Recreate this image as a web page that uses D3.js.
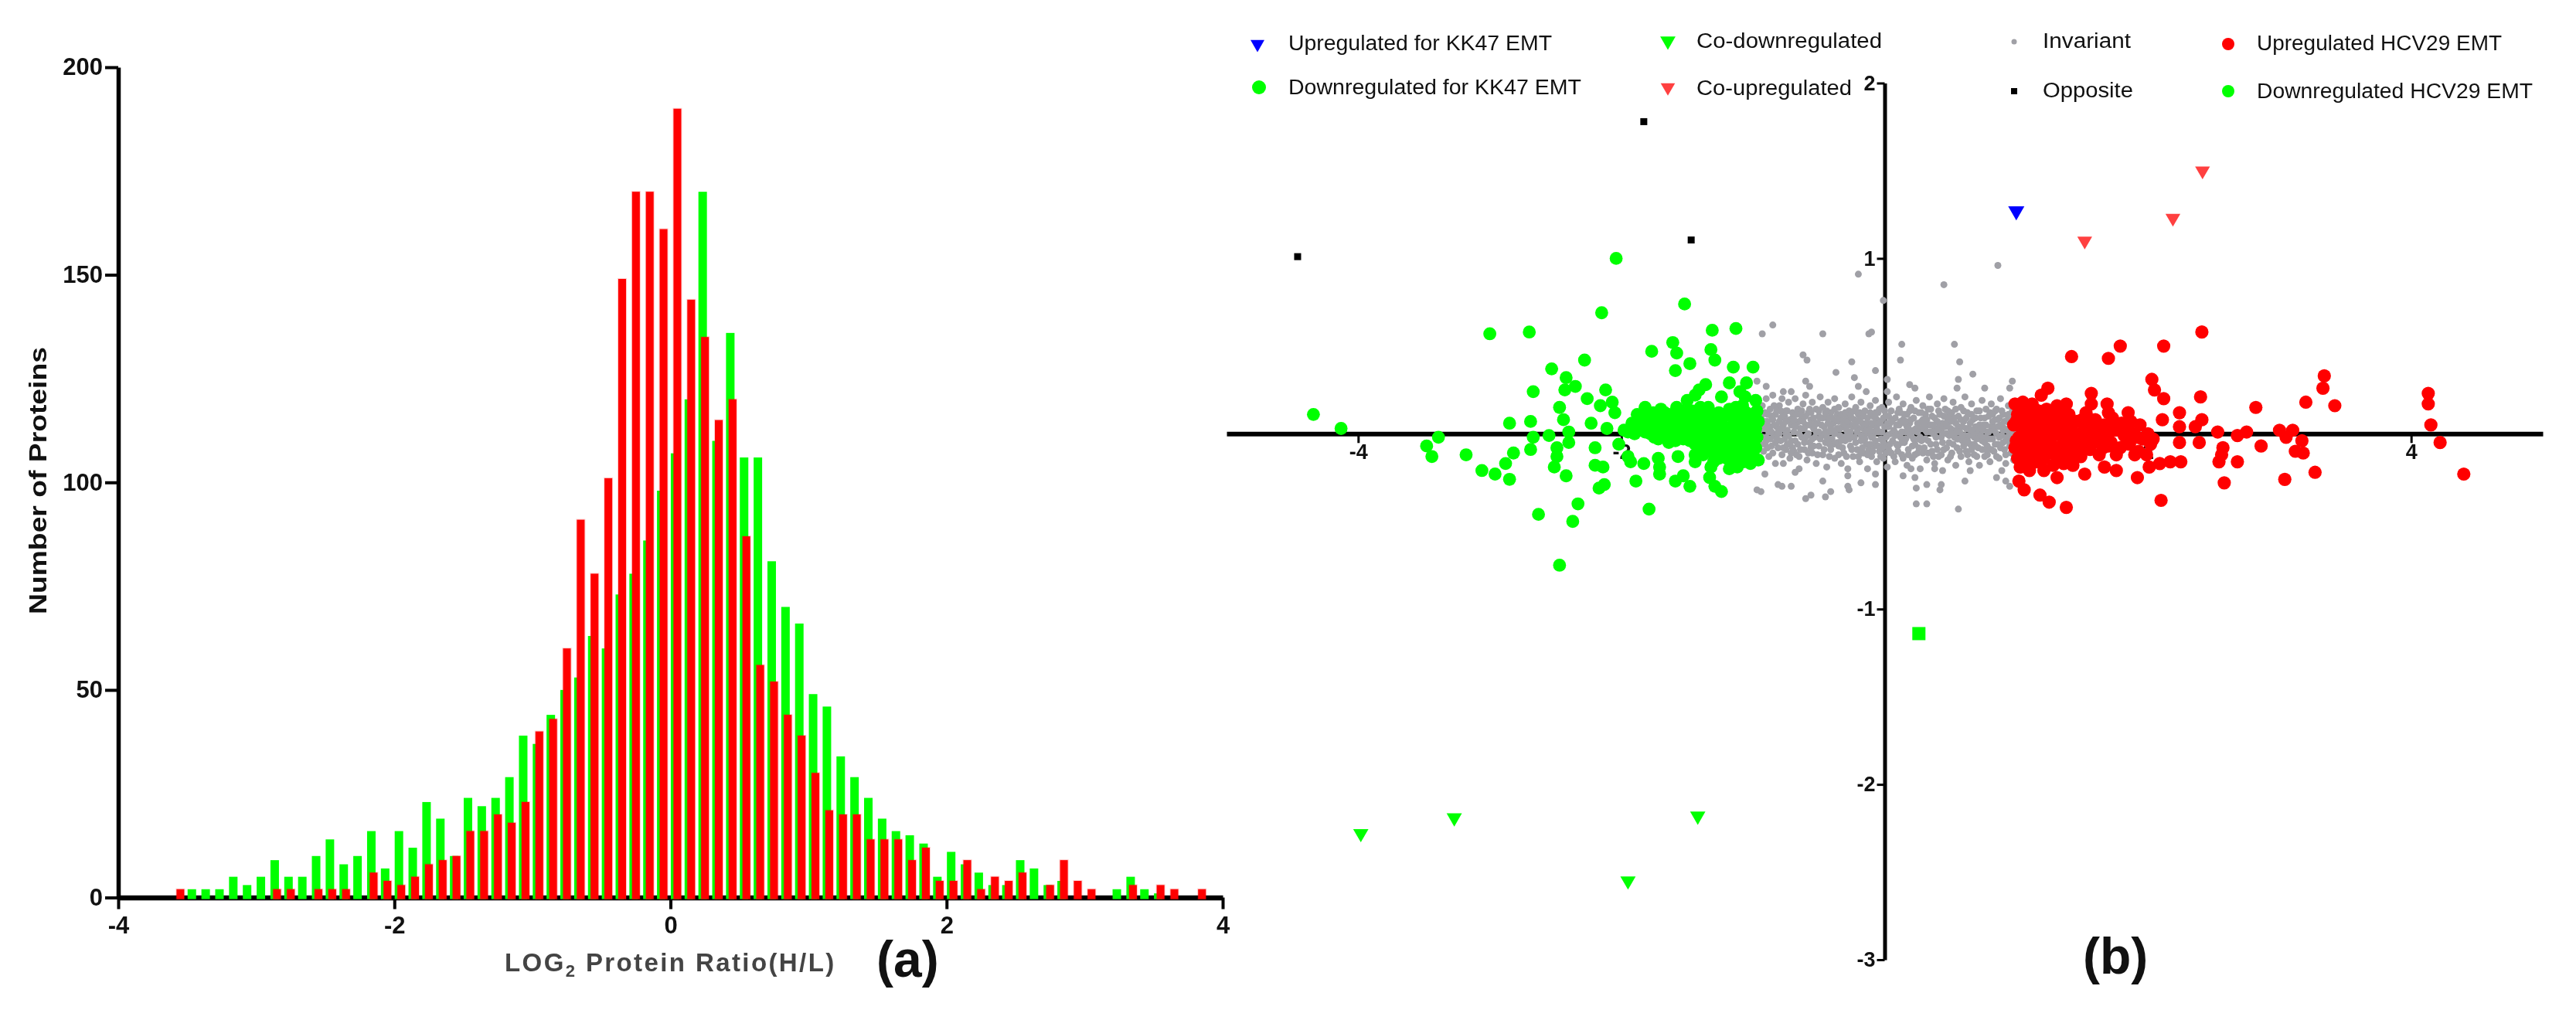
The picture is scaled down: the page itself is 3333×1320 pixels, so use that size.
<!DOCTYPE html>
<html><head><meta charset="utf-8">
<script src="https://cdn.jsdelivr.net/npm/d3@7/dist/d3.min.js"></script>
<style>
html,body{margin:0;padding:0;background:#fff}
svg{display:block;filter:blur(0.7px)}
text{font-family:"Liberation Sans",Arial,sans-serif}
</style></head><body><svg id="c" width="3333" height="1320"></svg>
<script>
const bins=[-3.55,-3.45,-3.35,-3.25,-3.15,-3.05,-2.95,-2.85,-2.75,-2.65,-2.55,-2.45,-2.35,-2.25,-2.15,-2.05,-1.95,-1.85,-1.75,-1.65,-1.55,-1.45,-1.35,-1.25,-1.15,-1.05,-0.95,-0.85,-0.75,-0.65,-0.55,-0.45,-0.35,-0.25,-0.15,-0.05,0.05,0.15,0.25,0.35,0.45,0.55,0.65,0.75,0.85,0.95,1.05,1.15,1.25,1.35,1.45,1.55,1.65,1.75,1.85,1.95,2.05,2.15,2.25,2.35,2.45,2.55,2.65,2.75,2.85,2.95,3.05,3.15,3.25,3.35,3.45,3.55,3.65,3.75,3.85];
const greenCounts=[0,2,2,2,5,3,5,9,5,5,10,14,8,10,16,7,16,12,23,19,10,24,22,24,29,39,37,44,50,53,63,60,73,78,86,98,107,120,170,110,136,106,106,81,70,66,49,46,34,29,24,19,16,15,13,5,11,8,6,3,3,9,7,3,4,0,0,0,2,5,2,1,0,0,0];
const redCounts=[2,0,0,0,0,0,0,2,2,0,2,2,2,0,6,4,3,5,8,9,10,16,16,20,18,23,40,43,60,91,78,101,149,170,170,161,190,144,135,115,120,87,56,52,44,39,30,21,20,20,14,14,14,9,12,4,4,9,2,5,4,6,0,3,9,4,2,0,0,3,0,3,2,0,2];
const histXTicks=[-4,-2,0,2,4];
const histYTicks=[0,50,100,150,200];

const opposite=[[-4.46,1.01],[-1.83,1.78],[-1.47,1.105]];
const upKK47=[[1.0,1.27]];
const coUp=[[2.19,1.23],[1.52,1.10],[2.415,1.50]];
const coDown=[[-3.98,-2.28],[-3.27,-2.19],[-1.42,-2.18],[-1.95,-2.55]];
const downHCV29=[[0.26,-1.14]];
const downKK47=[[-4.34,.11],[-4.13,.03],[-3.39,-.02],[-3.48,-.07],[-3.44,-.13],[-3.18,-.12],[-3.0,.57],[-2.70,.58],[-2.85,.06],[-2.69,.07],[-2.82,-.11],[-2.88,-.17],[-3.06,-.21],[-2.96,-.23],[-2.85,-.26],[-2.67,.24],[-2.53,.37],[-2.42,.32],[-2.43,.25],[-2.35,.27],[-2.28,.42],[-2.26,.20],[-2.15,.69],[-2.04,1.0],[-1.52,.74],[-1.77,.47],[-1.61,.52],[-1.58,.46],[-1.48,.40],[-1.59,.36],[-1.31,.59],[-1.13,.60],[-1.32,.48],[-1.29,.42],[-1.15,.38],[-1.0,.38],[-1.36,.28],[-1.41,.25],[-1.18,.29],[-1.05,.29],[-1.10,.24],[-1.24,.21],[-2.12,.25],[-2.16,.16],[-2.07,.18],[-2.05,.12],[-2.47,.15],[-2.44,.08],[-2.23,.06],[-2.11,.03],[-2.40,.01],[-2.40,-.05],[-2.55,-.01],[-2.67,-.02],[-2.69,-.09],[-2.49,-.08],[-2.49,-.13],[-2.51,-.19],[-2.42,-.24],[-2.20,-.08],[-2.20,-.18],[-2.14,-.19],[-2.02,-.06],[-1.95,-.13],[-1.93,-.16],[-1.83,-.17],[-1.72,-.14],[-1.71,-.19],[-1.71,-.23],[-1.89,-.27],[-2.13,-.29],[-2.17,-.31],[-1.59,-.27],[-1.53,-.24],[-1.48,-.30],[-2.33,-.40],[-2.63,-.46],[-2.37,-.50],[-1.79,-.43],[-2.47,-.75],[-1.32,-.19],[-1.33,-.25],[-1.29,-.30],[-1.24,-.33],[-1.57,-.13],[-1.44,-.16],[-1.44,-.12],
[-1.98,.02],[-1.92,.06],[-1.88,.11],[-1.85,.04],[-1.82,.15],[-1.80,.07],[-1.78,.0],[-1.76,.12],[-1.74,.05],[-1.72,-.03],[-1.70,.14],[-1.68,.08],[-1.66,.01],[-1.64,-.05],[-1.62,.11],[-1.60,.05],[-1.58,.15],[-1.56,-.01],[-1.54,.09],[-1.52,.02],[-1.50,.19],[-1.48,-.04],[-1.46,.13],[-1.44,.22],[-1.42,.06],[-1.40,-.06],[-1.38,.11],[-1.36,.01],[-1.34,.15],[-1.32,-.04],[-1.30,.07],[-1.28,-.10],[-1.26,.12],[-1.24,-.02],[-1.22,.04],[-1.20,-.14],[-1.18,.14],[-1.16,-.07],[-1.14,.08],[-1.12,-.19],[-1.10,.01],[-1.08,.16],[-1.06,-.11],[-1.04,.05],[-1.02,-.05],[-1.0,.11],[-.98,.19],[-.97,-.02],[-.96,.07],[-.96,-.15],[-1.10,-.13],[-1.18,-.20],[-1.22,-.12],[-1.30,-.16],[-1.38,-.12],[-1.44,-.06],[-1.02,-.17],[-1.06,.21],[-1.13,.15],[-1.25,.07],[-1.35,.08],[-1.40,.15],[-1.28,.02],[-1.18,.03],[-1.10,.10],[-1.05,-.02],[-1.33,-.02],[-1.46,.03],[-1.62,-.01],[-1.70,.03],[-1.76,.07],
[-1.43,.10],[-1.41,.01],[-1.39,.05],[-1.37,-.07],[-1.35,.12],[-1.34,-.10],[-1.31,.02],[-1.29,.11],[-1.27,-.05],[-1.26,-.14],[-1.23,.09],[-1.21,-.06],[-1.20,.01],[-1.19,.11],[-1.17,-.02],[-1.15,-.11],[-1.15,.05],[-1.13,-.16],[-1.12,-.03],[-1.11,.05],[-1.09,-.07],[-1.08,.09],[-1.07,-.16],[-1.05,.12],[-1.04,-.08],[-1.03,.01],[-1.01,.07],[-1.0,-.11],[-1.0,-.02],[-.98,.03],[-.98,-.08],[-.97,.13],[-1.42,-.01],[-1.36,-.03],[-1.30,-.09],[-1.24,.01],[-1.12,.12],[-1.16,.10],
[-1.84,.10],[-1.82,.01],[-1.79,.12],[-1.77,.04],[-1.75,-.02],[-1.73,.10],[-1.71,.07],[-1.69,-.01],[-1.67,.12],[-1.65,.05],[-1.63,.09],[-1.61,.01],[-1.59,-.04],[-1.58,.10],[-1.56,.05],[-1.55,.13],[-1.53,-.03],[-1.51,.07],[-1.49,.13],[-1.47,.08],[-1.49,.01],[-1.95,.01],[-1.90,.0],[-1.87,.07]];
const upHCV29=[[2.41,.58],[1.79,.50],[2.12,.50],[1.42,.44],[1.70,.43],[3.34,.33],[3.33,.26],[3.20,.18],[3.42,.16],[2.82,.15],[2.03,.31],[2.05,.25],[2.12,.20],[2.40,.21],[2.24,.12],[1.24,.26],[1.19,.22],[1.57,.23],[1.57,.17],[1.69,.17],[1.70,.12],[1.85,.12],[2.11,.08],[2.41,.08],[2.36,.04],[2.24,.04],[2.53,.01],[2.75,.01],[2.68,-.01],[3.0,.02],[3.10,.02],[3.05,-.02],[3.17,-.04],[3.12,-.10],[3.18,-.11],[2.86,-.07],[2.57,-.08],[2.56,-.12],[2.54,-.16],[2.68,-.16],[2.39,-.05],[2.24,-.05],[2.25,-.16],[2.17,-.16],[2.09,-.17],[2.01,-.19],[3.27,-.22],[3.04,-.26],[2.58,-.28],[2.10,-.38],[1.92,-.25],[1.76,-.21],[1.67,-.19],[1.52,-.23],[1.31,-.25],[1.21,-.21],[1.38,-.42],[1.25,-.39],[1.18,-.35],[1.06,-.32],[1.02,-.27],[1.10,-.21],[4.40,-.23],[4.13,.23],[4.13,.17],[4.15,.05],[4.22,-.05],
[.99,.17],[1.01,.11],[.98,.05],[1.02,-.02],[.99,-.08],[1.01,-.14],[1.03,-.19],[1.05,.18],[1.07,.09],[1.05,.02],[1.08,-.06],[1.06,-.12],[1.09,-.18],[1.12,.17],[1.13,.11],[1.11,.04],[1.14,-.03],[1.12,-.10],[1.15,-.16],[1.17,.13],[1.18,.06],[1.20,-.01],[1.18,-.08],[1.21,-.14],[1.24,.10],[1.25,.03],[1.23,-.05],[1.26,-.11],[1.28,-.18],[1.31,.16],[1.33,.08],[1.30,.0],[1.34,-.07],[1.32,-.14],[1.38,.17],[1.40,.11],[1.37,.03],[1.41,-.04],[1.39,-.11],[1.43,-.18],[1.46,.07],[1.48,.0],[1.45,-.07],[1.49,-.13],[1.53,.12],[1.55,.04],[1.52,-.03],[1.56,-.09],[1.60,.08],[1.62,.01],[1.59,-.05],[1.63,-.12],[1.67,.05],[1.69,-.01],[1.66,-.08],[1.73,.09],[1.75,.02],[1.72,-.05],[1.76,-.12],[1.80,.06],[1.82,-.01],[1.79,-.08],[1.87,.07],[1.89,.0],[1.86,-.06],[1.90,-.12],[1.94,.05],[1.96,-.03],[1.93,-.10],[2.0,.0],[2.02,-.06],[1.99,-.12],[2.04,-.03],
[1.0,.07],[1.0,-.04],[1.03,.14],[1.04,.05],[1.03,-.08],[1.04,-.16],[1.08,.14],[1.09,.01],[1.07,-.02],[1.10,-.09],[1.09,-.14],[1.11,.09],[1.14,.14],[1.15,.07],[1.16,.0],[1.15,-.07],[1.17,-.12],[1.20,.09],[1.21,.03],[1.22,-.09],[1.23,.14],[1.27,.06],[1.27,-.02],[1.28,-.08],[1.29,.12],[1.30,-.12],[1.34,.03],[1.35,.12],[1.36,-.03],[1.37,-.09],[1.36,-.17],[1.42,.07],[1.43,.01],[1.43,-.09],[1.47,-.04],[1.50,.08],[1.50,-.07],[1.52,.05],[1.56,.0],[1.57,.08],[1.60,.0],[1.64,.05],[1.65,-.03],[1.70,.04],[1.70,-.07],[1.78,.03],[1.84,.03],[1.84,-.05],[1.92,-.02],[1.41,-.14]];
const invariant=[[-.20,.91],[.45,.85],[.86,.96],[-.01,.76],[-.47,.57],[-.12,.57],[.13,.51],[.53,.51],[-.62,.45],[-.59,.42],[-.25,.41],[.12,.42],[.57,.41],[-.37,.35],[-.07,.36],[-.23,.32],[.67,.34],[.56,.31],[.02,.31],[.97,.30],[.95,.26],[-.60,.30],[-.57,.27],[.19,.28],[.23,.26],[.76,.26],[.55,.26],[-.20,.27],[-.14,.24],[.02,.24],[-.71,.24],[-.77,.24],[-.85,.62],[-.93,.57],[-.10,.58],[-.97,.30],[-.90,.27],
[-.68,-.22],[-.65,-.20],[-.77,-.17],[-.47,-.27],[-.28,-.24],[-.28,-.30],[-.18,-.28],[-.07,-.29],[-.07,-.23],[-.56,-.35],[-.60,-.37],[-.41,-.33],[-.45,-.36],[-.27,-.32],[-.78,-.30],[-.71,-.30],[.24,-.31],[.32,-.29],[.43,-.29],[.42,-.32],[.61,-.27],[.24,-.40],[.32,-.40],[.56,-.43],[.92,-.27],[.95,-.30],[.85,-.25],[.65,-.21],[.14,-.24],[.23,-.25],[.20,-.20],[.44,-.21],[.38,-.20],[.89,-.21],[-.97,-.32],[-.94,-.33],[-.91,-.23],[-.81,-.29],[-.94,-.16],
[-.95,.10],[-.95,.02],[-.94,-.06],[-.93,.16],[-.93,.05],[-.92,-.10],[-.91,.12],[-.90,-.02],[-.90,.20],[-.89,.07],[-.88,-.13],[-.88,.01],[-.87,.14],[-.86,-.07],[-.85,.08],[-.85,.22],[-.84,-.01],[-.83,.11],[-.83,-.17],[-.82,.04],[-.81,-.08],[-.80,.16],[-.80,.0],[-.79,.09],[-.78,-.12],[-.78,.20],[-.77,.05],[-.76,-.03],[-.75,.13],[-.75,-.09],[-.74,.02],[-.73,.18],[-.72,-.14],[-.72,.08],[-.71,-.04],[-.70,.12],[-.69,.01],[-.69,-.10],[-.68,.20],[-.67,.06],[-.66,-.06],[-.66,.14],[-.65,-.13],[-.64,.03],[-.63,.10],[-.63,-.02],[-.62,.17],[-.61,-.09],[-.60,.05],[-.60,.22],[-.59,-.15],[-.58,.0],[-.58,.12],[-.57,-.05],[-.56,.08],[-.55,-.11],[-.55,.18],[-.54,.03],[-.53,-.02],[-.52,.14],[-.52,-.17],[-.51,.06],[-.50,-.07],[-.50,.10],[-.49,.21],[-.48,-.01],[-.47,-.12],[-.47,.15],[-.46,.04],[-.45,-.05],[-.44,.09],[-.44,-.19],[-.43,.18],[-.42,.01],[-.41,-.09],[-.41,.12],[-.40,-.03],[-.39,.06],[-.38,-.14],[-.38,.20],[-.37,.02],[-.36,.11],[-.35,-.07],[-.35,.15],[-.34,-.01],[-.33,-.17],[-.33,.08],[-.32,.04],[-.31,-.11],[-.30,.17],[-.30,-.04],[-.29,.10],[-.28,.0],[-.28,-.20],[-.27,.13],[-.26,-.07],[-.26,.05],[-.25,.21],[-.24,-.13],[-.23,.08],[-.23,-.02],[-.22,.15],[-.21,-.09],[-.20,.03],[-.20,.11],[-.19,-.16],[-.18,-.04],[-.18,.18],[-.17,.06],[-.16,-.11],[-.15,.0],[-.15,.13],[-.14,-.06],[-.13,.09],[-.13,-.20],[-.12,.03],[-.11,.16],[-.10,-.02],[-.10,-.13],[-.09,.10],[-.08,-.07],[-.08,.05],[-.07,.19],[-.06,-.16],[-.05,.01],[-.05,.12],[-.04,-.10],[-.03,.07],[-.03,-.03],[-.02,.15],[-.01,-.14],[0,.04],[0,-.07],[.01,.10],[.02,-.01],[.02,-.19],[.03,.18],[.04,.06],[.05,-.11],[.05,.13],[.06,-.04],[.07,.02],[.08,-.16],[.08,.09],[.09,.21],[.10,-.07],[.11,.05],[.11,.14],[.12,-.02],[.13,-.12],[.14,.08],[.14,.17],[.15,-.05],[.16,.01],[.17,-.18],[.17,.11],[.18,-.09],[.19,.06],[.20,.15],[.20,-.01],[.21,-.14],[.22,.09],[.23,-.06],[.24,.03],[.24,.19],[.25,-.11],[.26,.12],[.27,-.02],[.27,-.20],[.28,.07],[.29,.16],[.30,-.08],[.31,.02],[.31,.11],[.32,-.15],[.33,-.04],[.34,.05],[.34,.21],[.35,.14],[.36,-.10],[.37,.0],[.38,.09],[.38,-.17],[.39,-.06],[.40,.17],[.41,.03],[.41,-.13],[.42,.11],[.43,-.02],[.44,.06],[.45,-.09],[.45,.20],[.46,.14],[.47,.0],[.48,-.15],[.48,.08],[.49,-.05],[.50,.03],[.51,.12],[.51,-.11],[.52,.18],[.53,-.02],[.54,.06],[.54,-.18],[.55,-.08],[.56,.10],[.57,.01],[.58,.15],[.58,-.13],[.59,-.04],[.60,.07],[.61,.21],[.61,-.01],[.62,-.10],[.63,.12],[.64,.03],[.64,-.16],[.65,-.06],[.66,.17],[.67,.08],[.68,-.02],[.68,-.12],[.69,.04],[.70,.13],[.71,-.08],[.71,.0],[.72,-.18],[.73,.09],[.74,.19],[.74,-.04],[.75,.05],[.76,-.13],[.77,.14],[.78,.01],[.78,-.07],[.79,.10],[.80,-.16],[.81,.04],[.81,.17],[.82,-.03],[.83,-.10],[.84,.08],[.85,.0],[.85,.14],[.86,-.06],[.87,-.14],[.88,.05],[.88,.20],[.89,-.01],[.90,.11],[.91,-.09],[.91,.03],[.92,-.17],[.93,.07],[.94,.16],[.94,-.04],[.95,.01],[.96,-.11],[.96,.10],[.97,.05],[.97,-.06],[.98,-.15],
[-.90,-.04],[-.84,.16],[-.76,.10],[-.70,-.08],[-.62,.07],[-.57,.14],[-.50,.01],[-.43,-.04],[-.36,.03],[-.31,.07],[-.25,-.02],[-.19,.08],[-.12,-.09],[-.06,.08],[.03,-.09],[.09,.0],[.15,.06],[.21,.01],[.28,-.04],[.35,.01],[.42,.05],[.49,.10],[.56,-.03],[.63,-.04],[.70,.02],[.77,-.02],[.83,.04],[.90,-.05],[.94,.09]];
const invariantBand=[[-.96,.05],[-.96,-.03],[-.94,.09],[-.93,-.02],[-.92,.03],[-.91,-.06],[-.91,.07],[-.89,-.08],[-.89,.11],[-.87,.04],[-.87,-.03],[-.86,.10],[-.85,-.11],[-.84,.05],[-.83,-.05],[-.82,.13],[-.81,.01],[-.80,.07],[-.79,-.04],[-.78,.03],[-.77,.11],[-.77,-.08],[-.75,.07],[-.74,-.06],[-.74,.13],[-.73,-.01],[-.71,.05],[-.71,-.11],[-.70,.09],[-.68,-.04],[-.68,.04],[-.67,.11],[-.67,-.12],[-.65,.0],[-.65,.07],[-.64,-.09],[-.63,.13],[-.61,.03],[-.61,-.05],[-.60,.10],[-.59,-.01],[-.58,-.11],[-.57,.05],[-.56,.12],[-.55,-.03],[-.54,.09],[-.54,-.07],[-.52,.01],[-.52,.06],[-.51,-.12],[-.50,.13],[-.49,-.03],[-.48,.05],[-.47,.09],[-.46,-.09],[-.45,.01],[-.44,-.02],[-.44,.13],[-.43,.06],[-.42,-.13],[-.41,.03],[-.40,.09],[-.39,-.06],[-.38,.0],[-.38,.14],[-.36,-.05],[-.35,.07],[-.35,-.12],[-.34,.03],[-.33,.11],[-.32,-.08],[-.31,-.02],[-.30,.04],[-.30,.12],[-.29,-.13],[-.28,.07],[-.27,-.03],[-.26,.01],[-.25,.09],[-.25,-.09],[-.24,.04],[-.23,.13],[-.22,-.05],[-.21,.01],[-.21,.07],[-.20,-.13],[-.19,.12],[-.18,-.01],[-.17,-.08],[-.16,.03],[-.16,.10],[-.15,-.03],[-.14,.06],[-.13,-.12],[-.12,.0],[-.11,.12],[-.11,-.06],[-.10,.06],[-.09,-.01],[-.09,-.10],[-.08,.01],[-.07,.09],[-.07,-.04],[-.06,.03],[-.05,-.07],[-.04,.06],[-.04,.14],[-.03,-.13],[-.02,.01],[-.01,.09],[-.01,-.05],[0,.13],[.01,-.02],[.01,-.11],[.03,.04],[.03,.10],[.04,-.06],[.05,.0],[.06,.08],[.07,-.13],[.08,-.01],[.09,.05],[.10,.12],[.10,-.10],[.12,.07],[.13,.01],[.13,-.05],[.14,-.14],[.15,.11],[.16,-.03],[.17,.04],[.18,-.12],[.19,.0],[.19,.13],[.20,.08],[.21,-.07],[.22,.02],[.23,-.12],[.23,.13],[.25,.06],[.26,-.03],[.26,-.08],[.27,.03],[.28,.12],[.29,-.11],[.30,.05],[.31,-.03],[.32,.08],[.33,-.11],[.33,.14],[.35,-.06],[.35,.05],[.36,.10],[.37,-.13],[.38,.03],[.39,-.02],[.40,.07],[.40,-.09],[.41,.13],[.43,.02],[.43,-.12],[.44,-.05],[.45,.10],[.46,.04],[.47,-.08],[.48,.13],[.49,-.01],[.50,.07],[.50,-.13],[.52,.02],[.52,-.06],[.53,.09],[.54,.14],[.55,-.03],[.56,.04],[.57,-.10],[.58,.08],[.59,-.01],[.60,.13],[.60,-.07],[.62,.03],[.62,.09],[.63,-.12],[.64,-.01],[.65,.06],[.66,-.09],[.66,.11],[.67,.01],[.68,-.06],[.69,.09],[.70,-.03],[.70,-.13],[.72,.05],[.72,.13],[.73,-.01],[.74,-.09],[.75,.02],[.76,.09],[.76,-.05],[.77,.05],[.78,-.12],[.79,.01],[.80,.12],[.80,-.03],[.81,-.09],[.82,.07],[.83,.02],[.84,-.06],[.84,.13],[.85,-.13],[.86,.04],[.87,.09],[.87,-.02],[.88,-.08],[.89,.13],[.90,.02],[.91,.07],[.92,-.04],[.92,-.12],[.93,.02],[.94,.11],[.95,-.07],[.96,.04],[.96,-.02],[.97,.13],[.98,.08],[.98,-.09],[.99,.01],[.99,-.04],
[-.93,.11],[-.90,.04],[-.86,.01],[-.82,-.03],[-.79,.13],[-.75,.00],[-.72,-.06],[-.69,.08],[-.64,.11],[-.60,-.02],[-.56,-.08],[-.53,.05],[-.49,.09],[-.45,.12],[-.42,-.06],[-.39,.02],[-.36,.08],[-.33,-.04],[-.29,.02],[-.26,.11],[-.22,.05],[-.18,-.11],[-.14,.02],[-.11,.02],[-.07,.12],[-.02,-.08],[.02,.06],[.05,.07],[.09,-.06],[.12,.12],[.16,.07],[.18,.03],[.22,-.03],[.25,.01],[.29,.08],[.32,.01],[.37,.05],[.40,.02],[.44,.00],[.47,.05],[.51,.00],[.55,.01],[.59,.04],[.62,-.05],[.66,.02],[.69,-.07],[.73,.03],[.77,-.09],[.82,.11],[.86,.08],[.89,.04],[.93,-.02],[.97,.0]];
const xTicksB=[-4,-2,2,4];
const yTicksB=[-3,-2,-1,1,2];
const legendRows=[
 {label:"Upregulated for KK47 EMT",mx:1627,my:57,tx:1667,ty:65,w:341,sym:"tri",c:"#0000ff",s:140},
 {label:"Downregulated for KK47 EMT",mx:1629,my:113,tx:1667,ty:122,w:379,sym:"cir",c:"#00ff00",s:9},
 {label:"Co-downregulated",mx:2158,my:53,tx:2195,ty:62,w:240,sym:"tri",c:"#00ff00",s:170},
 {label:"Co-upregulated",mx:2158,my:113,tx:2195,ty:123,w:201,sym:"tri",c:"#ff4040",s:150},
 {label:"Invariant",mx:2606,my:54,tx:2643,ty:62,w:114,sym:"cir",c:"#a0a0a6",s:3.5},
 {label:"Opposite",mx:2606,my:118,tx:2643,ty:126,w:117,sym:"sq",c:"#000",s:4},
 {label:"Upregulated HCV29 EMT",mx:2883,my:57,tx:2920,ty:65,w:317,sym:"cir",c:"#ff0000",s:8},
 {label:"Downregulated HCV29 EMT",mx:2883,my:118,tx:2920,ty:127,w:357,sym:"cir",c:"#00ff00",s:8}
];

const svg=d3.select("#c");
const asHyphen=d=>String(d);
// ---------- panel (a)
const xA=d3.scaleLinear().domain([-4,4]).range([153,1582]);
const yA=d3.scaleLinear().domain([0,200]).range([1161.5,87]);
const a=svg.append("g");
const axX=a.append("g").attr("transform","translate(0,1161.5)").call(d3.axisBottom(xA).tickValues(histXTicks).tickFormat(asHyphen).tickSize(15).tickSizeOuter(0).tickPadding(9));
const axY=a.append("g").attr("transform","translate(153,0)").call(d3.axisLeft(yA).tickValues(histYTicks).tickSize(17).tickSizeOuter(0).tickPadding(3));
[axX,axY].forEach(g=>{
  g.selectAll("path").attr("stroke","#000").attr("stroke-width",5.5);
  g.selectAll("line").attr("stroke","#000").attr("stroke-width",4);
  g.selectAll("text").attr("fill","#111").attr("font-size",31).attr("font-weight","bold").style("font-family",'"Liberation Sans"');
});
axX.select("path").attr("stroke-width",6.5);
axX.selectAll("text").attr("dy",".71em");
const barW=10;
a.append("g").selectAll("rect").data(bins.map((b,i)=>({b,v:greenCounts[i]})).filter(d=>d.v>0)).join("rect")
 .attr("x",d=>xA(d.b)-3-barW/2-.5).attr("width",barW+1).attr("y",d=>yA(d.v)).attr("height",d=>yA(0)-yA(d.v)+2).attr("fill","#00ff00");
a.append("g").selectAll("rect").data(bins.map((b,i)=>({b,v:redCounts[i]})).filter(d=>d.v>0)).join("rect")
 .attr("x",d=>xA(d.b)-barW/2).attr("width",barW).attr("y",d=>yA(d.v)).attr("height",d=>yA(0)-yA(d.v)+2).attr("fill","#ff0000")
 .attr("stroke","rgba(255,0,0,.2)").attr("stroke-width",2);
a.append("text").attr("transform","translate(60,622) rotate(-90)").attr("text-anchor","middle")
 .attr("font-size",31).attr("font-weight","bold").attr("fill","#111").attr("textLength",346).attr("lengthAdjust","spacingAndGlyphs").text("Number of Proteins");
const xl=a.append("text").attr("x",653).attr("y",1257).attr("font-size",33).attr("font-weight","bold").attr("fill","#444").attr("letter-spacing",2.4);
xl.append("tspan").text("LOG");
xl.append("tspan").attr("font-size",22).attr("dy",7).text("2");
xl.append("tspan").attr("dy",-7).text(" Protein Ratio(H/L)");
a.append("text").attr("x",1134).attr("y",1264).attr("font-size",66).attr("font-weight","bold").attr("fill","#111").text("(a)");

// ---------- panel (b)
const xB=d3.scaleLinear().domain([-5,5]).range([1587,3290]);
const yB=d3.scaleLinear().domain([-3,2]).range([1242,107.5]);
const b=svg.append("g");
const bX=b.append("g").attr("transform",`translate(0,${yB(0)})`).call(d3.axisBottom(xB).tickValues(xTicksB).tickFormat(asHyphen).tickSize(12).tickSizeOuter(0).tickPadding(2));
const bY=b.append("g").attr("transform",`translate(${xB(0)},0)`).call(d3.axisLeft(yB).tickValues(yTicksB).tickFormat(asHyphen).tickSize(10).tickSizeOuter(0).tickPadding(2));
[bX,bY].forEach(g=>{
  g.selectAll("path").attr("stroke","#000").attr("stroke-width",5);
  g.selectAll("line").attr("stroke","#000").attr("stroke-width",3);
  g.selectAll("text").attr("fill","#111").attr("font-size",27).attr("font-weight","bold").style("font-family",'"Liberation Sans"');
});
bX.select("path").attr("stroke-width",6);
bX.selectAll("text").attr("dy",".71em");
function dots(data,r,c){b.append("g").selectAll("circle").data(data).join("circle").attr("cx",d=>xB(d[0])).attr("cy",d=>yB(d[1])).attr("r",r).attr("fill",c);}
function tris(data,s,c){b.append("g").selectAll("path").data(data).join("path").attr("d",d3.symbol().type(d3.symbolTriangle).size(s)()).attr("transform",d=>`translate(${xB(d[0])},${yB(d[1])}) rotate(180)`).attr("fill",c);}
function squares(data,s,c){b.append("g").selectAll("rect").data(data).join("rect").attr("x",d=>xB(d[0])-s).attr("y",d=>yB(d[1])-s).attr("width",2*s).attr("height",2*s).attr("fill",c);}
dots(invariant.concat(invariantBand),4.5,"#a0a0a6");
dots(downKK47,8.4,"#00ff00");
dots(upHCV29,8.6,"#ff0000");
squares(opposite,4.5,"#000");
tris(upKK47,190,"#0000ff");
tris(coUp,160,"#ff4040");
tris(coDown,170,"#00ff00");
squares(downHCV29,8.5,"#00ff00");
const lg=svg.append("g");
legendRows.forEach(r=>{
  if(r.sym==="tri") lg.append("path").attr("d",d3.symbol().type(d3.symbolTriangle).size(r.s)()).attr("transform",`translate(${r.mx},${r.my}) rotate(180)`).attr("fill",r.c);
  if(r.sym==="cir") lg.append("circle").attr("cx",r.mx).attr("cy",r.my).attr("r",r.s).attr("fill",r.c);
  if(r.sym==="sq") lg.append("rect").attr("x",r.mx-r.s).attr("y",r.my-r.s).attr("width",2*r.s).attr("height",2*r.s).attr("fill",r.c);
  lg.append("text").attr("x",r.tx).attr("y",r.ty).attr("font-size",27).attr("fill","#111").attr("textLength",r.w).attr("lengthAdjust","spacingAndGlyphs").text(r.label);
});
svg.append("text").attr("x",2695).attr("y",1260).attr("font-size",66).attr("font-weight","bold").attr("fill","#111").text("(b)");
</script></body></html>
